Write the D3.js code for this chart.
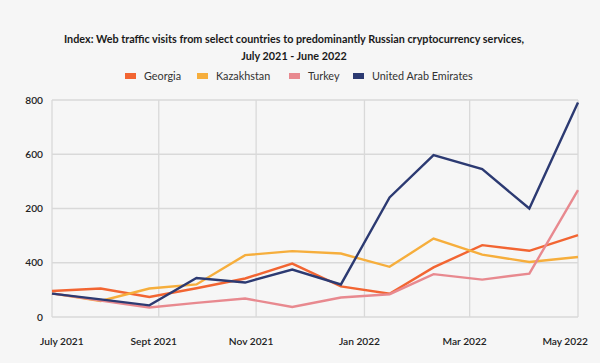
<!DOCTYPE html>
<html>
<head>
<meta charset="utf-8">
<script src="https://cdn.jsdelivr.net/npm/d3@7"></script>
<style>
  html, body { margin: 0; padding: 0; background: #f6f6f6; }
  svg { display: block; font-family: Lato, "Noto Sans", sans-serif; }
</style>
</head>
<body>
<div id="chart"></div>
<script>
// monthly data, July 2021 - June 2022
const months = ["2021-07-01","2021-08-01","2021-09-01","2021-10-01","2021-11-01","2021-12-01",
                "2022-01-01","2022-02-01","2022-03-01","2022-04-01","2022-05-01","2022-06-01"];
const georgia    = [96, 105, 74, 106, 142, 197, 113, 86, 183, 265, 244, 302];
const kazakhstan = [87, 59, 105, 120, 228, 243, 234, 185, 289, 230, 203, 221];
const turkey     = [87, 61, 35, 52, 68, 37, 72, 84, 158, 138, 160, 468];
const uae        = [86, 65, 43, 144, 127, 175, 120, 441, 597, 545, 400, 791];

const seriesNames = ["Georgia", "Kazakhstan", "Turkey", "United Arab Emirates"];
const seriesColors = ["#f26532", "#f6ae3c", "#e8898f", "#2c3a72"];

const yTickValues = [0, 200, 400, 600, 800];
const yTickLabels = ["0", "400", "200", "600", "800"];   // as printed on the original
const xTickDates  = ["2021-07-01","2021-09-07","2021-11-08","2022-01-16","2022-03-24","2022-06-01"];
const xTickLabels = ["July 2021", "Sept 2021", "Nov 2021", "Jan 2022", "Mar 2022", "May 2022"];

const titleLines = ["Index: Web traffic visits from select countries to predominantly Russian cryptocurrency services,",
                    "July 2021 - June 2022"];

const W = 600, H = 363;
const margin = {top: 100, right: 22, bottom: 46, left: 52};
const width = W - margin.left - margin.right;
const height = H - margin.top - margin.bottom;

const parse = d3.utcParse("%Y-%m-%d");
const dates = months.map(parse);
const allSeries = [georgia, kazakhstan, turkey, uae];

const svg = d3.select("#chart").append("svg")
    .attr("width", W)
    .attr("height", H);

svg.append("rect").attr("width", W).attr("height", H).attr("fill", "#f6f6f6");

// title
svg.selectAll(".title")
    .data(titleLines)
    .join("text")
    .attr("class", "title")
    .attr("x", 294)
    .attr("y", (d, i) => 43 + i * 17)
    .attr("text-anchor", "middle")
    .attr("font-size", 10.8)
    .attr("font-weight", 700)
    .attr("fill", "#1a1a1a")
    .text(d => d);

// legend
const legendX = [125, 197, 289, 353];
const legendG = svg.selectAll(".legendItem")
    .data(seriesNames)
    .join("g")
    .attr("class", "legendItem")
    .attr("transform", (d, i) => "translate(" + legendX[i] + ",76)");
legendG.append("rect")
    .attr("x", 0).attr("y", -3)
    .attr("width", 11).attr("height", 6)
    .attr("fill", (d, i) => seriesColors[i]);
legendG.append("text")
    .attr("x", 19).attr("y", 0)
    .attr("dy", "0.35em")
    .attr("font-size", 10.8)
    .attr("fill", "#333")
    .text(d => d);

const g = svg.append("g")
    .attr("transform", "translate(" + margin.left + "," + margin.top + ")");

const xScale = d3.scaleUtc()
    .domain(d3.extent(dates))
    .range([0, width]);
const yScale = d3.scaleLinear()
    .domain([0, 800])
    .range([height, 0]);

// grid
g.append("g")
    .selectAll("line")
    .data(yTickValues)
    .join("line")
    .attr("x1", 0).attr("x2", width)
    .attr("y1", d => yScale(d)).attr("y2", d => yScale(d))
    .attr("stroke", "#d9d9d9")
    .attr("stroke-width", 1.3);

g.append("g")
    .selectAll("line")
    .data(xTickDates.map(parse))
    .join("line")
    .attr("x1", d => xScale(d)).attr("x2", d => xScale(d))
    .attr("y1", 0).attr("y2", height)
    .attr("stroke", "#d9d9d9")
    .attr("stroke-width", 1.3);

// y labels
g.append("g")
    .selectAll("text")
    .data(yTickValues)
    .join("text")
    .attr("x", -9)
    .attr("y", d => yScale(d))
    .attr("dy", "0.35em")
    .attr("text-anchor", "end")
    .attr("font-size", 10.2)
    .attr("font-weight", 600)
    .attr("fill", "#222")
    .text((d, i) => yTickLabels[i]);

// x labels
const nX = xTickLabels.length;
g.append("g")
    .selectAll("text")
    .data(xTickDates.map(parse))
    .join("text")
    .attr("x", (d, i) => {
        const x = xScale(d);
        if (i === 0) return x - 12;
        if (i === nX - 1) return x + 10;
        return x - 5;
    })
    .attr("y", height + 24)
    .attr("dy", "0.35em")
    .attr("text-anchor", (d, i) => i === 0 ? "start" : (i === nX - 1 ? "end" : "middle"))
    .attr("font-size", 10.2)
    .attr("font-weight", 600)
    .attr("fill", "#222")
    .text((d, i) => xTickLabels[i]);

// lines
const line = d3.line()
    .x((d, i) => xScale(dates[i]))
    .y(d => yScale(d));

g.append("g")
    .selectAll("path")
    .data(allSeries)
    .join("path")
    .attr("d", d => line(d))
    .attr("fill", "none")
    .attr("stroke", (d, i) => seriesColors[i])
    .attr("stroke-width", 2.4)
    .attr("stroke-linejoin", "miter");
</script>
</body>
</html>
